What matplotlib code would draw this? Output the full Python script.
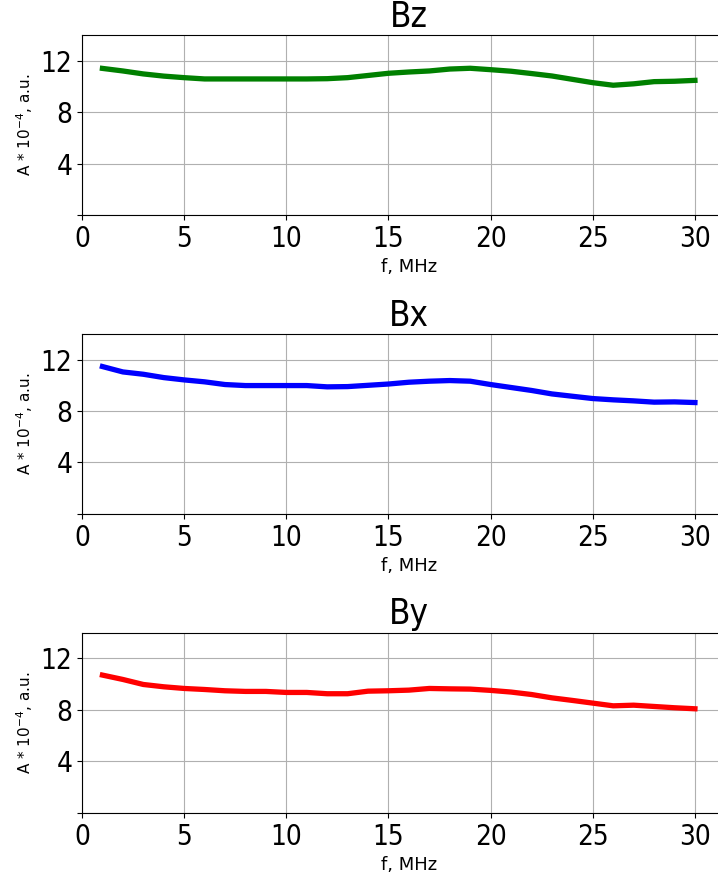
import numpy as np
import matplotlib
matplotlib.use("Agg")
import matplotlib.pyplot as plt

# Frequencies, MHz
freq = list(range(1, 31))

# Amplitudes (A * 1e-4, a.u.)
bz_vals = [11.40, 11.20, 10.97, 10.80, 10.68, 10.58, 10.58, 10.58, 10.58, 10.58,
           10.58, 10.60, 10.68, 10.85, 11.02, 11.12, 11.20, 11.35, 11.41, 11.30,
           11.18, 11.00, 10.81, 10.55, 10.29, 10.09, 10.20, 10.37, 10.40, 10.47]
bx_vals = [11.46, 11.04, 10.86, 10.60, 10.42, 10.27, 10.06, 9.98, 9.98, 9.98,
           9.98, 9.88, 9.90, 10.00, 10.10, 10.24, 10.32, 10.37, 10.32, 10.06,
           9.83, 9.60, 9.33, 9.15, 8.97, 8.87, 8.79, 8.69, 8.71, 8.66]
by_vals = [10.71, 10.37, 9.98, 9.80, 9.67, 9.59, 9.49, 9.44, 9.44, 9.36,
           9.36, 9.26, 9.26, 9.46, 9.49, 9.54, 9.67, 9.64, 9.62, 9.52,
           9.39, 9.20, 8.94, 8.74, 8.53, 8.32, 8.37, 8.27, 8.17, 8.09]

panels = [("Bz", bz_vals, "green"), ("Bx", bx_vals, "blue"), ("By", by_vals, "red")]
xticks = [0, 5, 10, 15, 20, 25, 30]
yticks = [0, 4, 8, 12]
ytick_labels = ["", "4", "8", "12"]

fig = plt.figure(figsize=(7.18, 8.74), dpi=100)
bottoms = [0.754, 0.412, 0.070]

# the right edge of each panel runs off the picture, as in the original
for (name, vals, col), b in zip(panels, bottoms):
    ax = fig.add_axes([0.1142, b, 0.9106, 0.206])
    ax.plot(freq, vals, color=col, linewidth=3.8)
    ax.set_xlim(0, 32)
    ax.set_ylim(0, 14)
    ax.set_xticks(xticks)
    ax.set_yticks(yticks)
    ax.set_yticklabels(ytick_labels)
    ax.tick_params(labelsize=20)
    for lbl in ax.get_xticklabels() + ax.get_yticklabels():
        lbl.set_fontstretch("condensed")
    ax.grid(True, color="#b0b0b0", linewidth=0.8)
    ax.set_title(name, fontsize=25, fontstretch="condensed")
    ax.set_xlabel("f, MHz", fontsize=13)
    ax.set_ylabel(r"A * 10$^{-4}$, a.u.", fontsize=11)

fig.savefig("out.png", dpi=100)
